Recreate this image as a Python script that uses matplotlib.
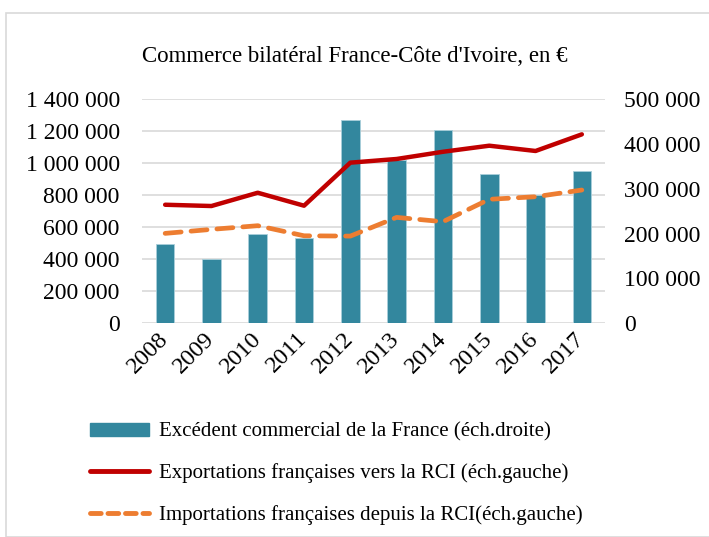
import matplotlib
matplotlib.use("Agg")
import matplotlib.pyplot as plt
from matplotlib.patches import Rectangle
from matplotlib.lines import Line2D
from matplotlib.ticker import FuncFormatter

years = ["2008", "2009", "2010", "2011", "2012", "2013", "2014", "2015", "2016", "2017"]
excedent = [177000, 143500, 199500, 189500, 454000, 364500, 431500, 333500, 286500, 340000]
exportations = [741000, 733000, 816000, 735000, 1004000, 1027000, 1072000, 1110000, 1077000, 1181000]
importations = [562000, 587000, 610000, 547000, 545000, 662000, 635000, 775000, 791000, 833000]

title = "Commerce bilatéral France-Côte d'Ivoire, en €"
lab_bar = "Excédent commercial de la France (éch.droite)"
lab_exp = "Exportations françaises vers la RCI (éch.gauche)"
lab_imp = "Importations françaises depuis la RCI(éch.gauche)"

plt.rcParams['font.family'] = ['Liberation Serif', 'DejaVu Serif']

W, H = 709, 537
fig = plt.figure(figsize=(W / 100, H / 100), dpi=100)

# chart border
fig.patches.append(Rectangle((5.5 / W, 0), 1.2, (H - 12.5) / H, transform=fig.transFigure,
                             fill=False, edgecolor='#D9D9D9', linewidth=1.2))

ax = fig.add_axes([142 / W, 1 - 323.3 / H, (605 - 142) / W, (323.3 - 99.3) / H])
ax2 = ax.twinx()

x = list(range(len(years)))
fmt = FuncFormatter(lambda v, p: f"{int(round(v)):,}".replace(",", " "))

ax2.bar(x, excedent, width=0.4, color='#33879E', edgecolor='#A9CFDA', linewidth=0.6, zorder=2)
ax2.set_ylim(0, 500000)
ax2.set_yticks(range(0, 500001, 100000))
ax2.yaxis.set_major_formatter(fmt)

ax.set_zorder(ax2.get_zorder() + 1)
ax.patch.set_visible(False)
ax.plot(x, exportations, color='#C00000', linewidth=3.2, solid_capstyle='round', zorder=4)
ax.plot(x, importations, color='#ED7D31', linewidth=3.4, dashes=(3.4, 2.1), dash_capstyle='round', zorder=4)
ax.set_ylim(0, 1400000)
ax.set_yticks(range(0, 1400001, 200000))
ax.yaxis.set_major_formatter(fmt)
ax.set_xlim(-0.5, len(years) - 0.5)
ax.set_xticks(x)
ax.set_xticklabels(years, rotation=45, ha='right', va='center', rotation_mode='anchor')

for v in range(0, 1400001, 200000):
    ax2.axhline(v / 1400000 * 500000, color='#D9D9D9', linewidth=1.2, zorder=0)

for a in (ax, ax2):
    for s in a.spines.values():
        s.set_visible(False)
    a.tick_params(length=0, labelsize=17, colors='black')
ax.tick_params(axis='y', pad=16)
ax2.tick_params(axis='y', pad=14)
ax.tick_params(axis='x', labelsize=17.5, pad=9)

fig.text(0.5, 1 - 56 / H, title, ha='center', va='center', fontsize=16.5)

handles = [Rectangle((0, 0), 1, 1, color='#33879E'),
           Line2D([0], [0], color='#C00000', linewidth=3.5, solid_capstyle='round'),
           Line2D([0], [0], color='#ED7D31', linewidth=3.5, dashes=(2.2, 1.4), dash_capstyle='round')]
fig.legend(handles, [lab_bar, lab_exp, lab_imp], loc='upper left',
           bbox_to_anchor=(82 / W, 1 - 414 / H), frameon=False, fontsize=15,
           handlelength=2.8, handleheight=0.6, handletextpad=0.5, labelspacing=1.05,
           borderaxespad=0)

fig.savefig("out.png", dpi=100)
